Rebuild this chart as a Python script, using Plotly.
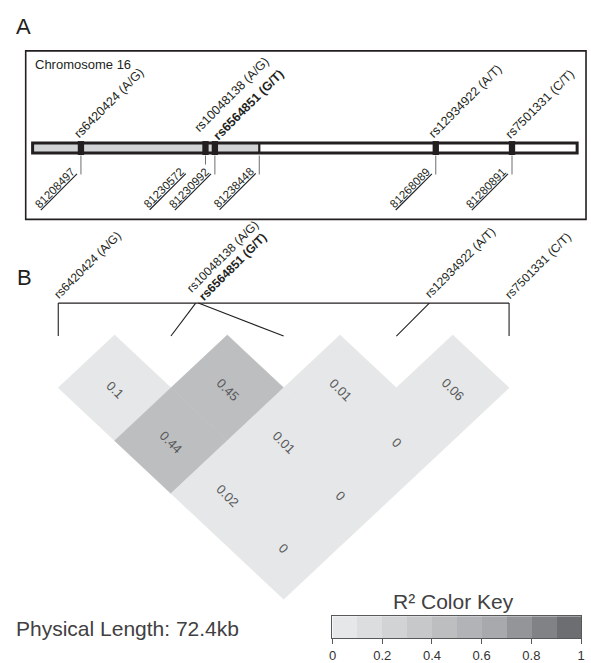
import math
import plotly.graph_objects as go

W, H = 591, 663
FONT = "Liberation Sans, Arial, Helvetica, sans-serif"

# ---------------- data ----------------
snp_ids = ["rs6420424", "rs10048138", "rs6564851", "rs12934922", "rs7501331"]
snp_alleles = ["A/G", "A/G", "G/T", "A/T", "C/T"]
snp_positions = [81208497, 81230572, 81230992, 81268089, 81280891]
lead_snp = "rs6564851"
block_end_position = 81238448
chromosome_label = "Chromosome 16"
region_start, region_end = 81200380, 81291830

# pairwise r2, listed by distance between SNPs (lag 1, 2, 3, 4)
r2_lag1 = [0.1, 0.45, 0.01, 0.06]
r2_lag2 = [0.44, 0.01, 0]
r2_lag3 = [0.02, 0]
r2_lag4 = [0]

key_edges = [0, 0.1, 0.2, 0.3, 0.4, 0.5, 0.6, 0.7, 0.8, 0.9, 1.0]
key_colors = ["#e6e7e8", "#dcddde", "#d1d3d4", "#c7c8ca", "#bcbec0",
              "#b1b3b6", "#a7a9ac", "#939598", "#808285", "#6d6e71"]
key_tickvals = [0, 0.2, 0.4, 0.6, 0.8, 1]
key_ticktext = ["0", "0.2", "0.4", "0.6", "0.8", "1"]

# ---------------- layout constants (pixels) ----------------
BAR_X0, BAR_X1 = 29, 581
BAR_Y0, BAR_Y1 = 143.5, 153.5
COL_X0, COL_DX = 55, 114.25       # LD columns
ROW_Y0, ROW_DY = 336, 53          # LD rows
BRACKET_Y = 304
marker_nudge_px = {"rs10048138": -7}
label_nudge_px = {"rs10048138": (-5, 6), "rs6564851": (5, -2)}   # (dx, dy-up)

bp_per_px = (region_end - region_start) / (BAR_X1 - BAR_X0)
INK = "#231f20"


def px_to_d(py):
    return (py - ROW_Y0) / ROW_DY


fig = go.Figure()
shapes = []
annotations = []

# ---------------- panel A ----------------
shapes.append(dict(type="rect", xref="paper", yref="paper", x0=22 / W, x1=590 / W,
                   y0=1 - 220 / H, y1=1 - 51 / H, line=dict(color=INK, width=1.6)))
annotations.append(dict(text="A", xref="paper", yref="paper", x=10 / W, y=1 - 27 / H,
                        xanchor="left", yanchor="middle", showarrow=False,
                        font=dict(family=FONT, size=22, color=INK)))
annotations.append(dict(text=chromosome_label, xref="paper", yref="paper", x=29 / W, y=1 - 65 / H,
                        xanchor="left", yanchor="middle", showarrow=False,
                        font=dict(family=FONT, size=13, color=INK)))

# chromosome bar
shapes.append(dict(type="rect", xref="x", yref="y", x0=region_start, x1=region_end,
                   y0=BAR_Y0, y1=BAR_Y1, fillcolor="white", line=dict(width=0)))
shapes.append(dict(type="rect", xref="x", yref="y", x0=region_start, x1=block_end_position,
                   y0=BAR_Y0, y1=BAR_Y1, fillcolor="#d1d3d4", line=dict(width=0)))
shapes.append(dict(type="line", xref="x", yref="y", x0=block_end_position, x1=block_end_position,
                   y0=BAR_Y0, y1=BAR_Y1, line=dict(color=INK, width=2.2)))
shapes.append(dict(type="rect", xref="x", yref="y", x0=region_start, x1=region_end,
                   y0=BAR_Y0, y1=BAR_Y1, fillcolor="rgba(0,0,0,0)", line=dict(color=INK, width=3)))

tick_items = []
for sid, al, pos in zip(snp_ids, snp_alleles, snp_positions):
    xpos = pos + marker_nudge_px.get(sid, 0) * bp_per_px
    shapes.append(dict(type="rect", xref="x", yref="y", x0=xpos - 3.2 * bp_per_px,
                       x1=xpos + 3.2 * bp_per_px, y0=141.5, y1=155.5,
                       fillcolor=INK, line=dict(width=0)))
    name = f"{sid} ({al})"
    if sid == lead_snp:
        name = f"<b>{name}</b>"
    dx, dy = label_nudge_px.get(sid, (0, 0))
    annotations.append(dict(text=name, xref="x", yref="y", x=xpos, y=144 - dy,
                            xanchor="left", yanchor="bottom", textangle=-45, showarrow=False,
                            xshift=-12 + dx, font=dict(family=FONT, size=12.5, color=INK)))
    tick_items.append((pos, xpos, sid in marker_nudge_px))
tick_items.append((block_end_position, block_end_position, False))

for pos, xpos, short in tick_items:
    shapes.append(dict(type="line", xref="x", yref="y", x0=xpos, x1=xpos, y0=156,
                       y1=165 if short else 175, line=dict(color="#6d6e71", width=1)))
    annotations.append(dict(text=f"<u>{pos}</u>", xref="x", yref="y", x=xpos, y=163,
                            xanchor="right", yanchor="top", textangle=-45, showarrow=False,
                            xshift=-17 if short else -1,
                            font=dict(family=FONT, size=11.5, color=INK)))

# ---------------- panel B ----------------
annotations.append(dict(text="B", xref="paper", yref="paper", x=11 / W, y=1 - 278 / H,
                        xanchor="left", yanchor="middle", showarrow=False,
                        font=dict(family=FONT, size=22, color=INK)))

n = len(snp_ids)
span = snp_positions[-1] - snp_positions[0]
u_phys = [(n - 1) * (p - snp_positions[0]) / span for p in snp_positions]
d_b = px_to_d(BRACKET_Y)

bx, by = [0, n - 1, None], [d_b, d_b, None]
for i, u in enumerate(u_phys):
    bx += [u, i, None]
    by += [d_b, 0.02, None]
fig.add_trace(go.Scatter(x=bx, y=by, mode="lines", line=dict(color=INK, width=1.1),
                         hoverinfo="skip", showlegend=False, xaxis="x2", yaxis="y2"))

for i, (sid, al) in enumerate(zip(snp_ids, snp_alleles)):
    name = f"{sid} ({al})"
    if sid == lead_snp:
        name = f"<b>{name}</b>"
    dx, dy = label_nudge_px.get(sid, (0, 0))
    annotations.append(dict(text=name, xref="x2", yref="y2", x=u_phys[i], y=px_to_d(305 - dy),
                            xanchor="left", yanchor="bottom", textangle=-45, showarrow=False,
                            xshift=-10 + dx, font=dict(family=FONT, size=12, color=INK)))

r2_by_lag = [r2_lag1, r2_lag2, r2_lag3, r2_lag4]
for k, row in enumerate(r2_by_lag, start=1):
    for i, v in enumerate(row):
        b = max(0, math.ceil(v * 10 - 1e-9) - 1)
        col = key_colors[b]
        cx, cy = i + k / 2, k
        fig.add_trace(go.Scatter(x=[cx - 0.5, cx, cx + 0.5, cx, cx - 0.5],
                                 y=[cy, cy - 1, cy, cy + 1, cy],
                                 mode="lines", fill="toself", fillcolor=col,
                                 line=dict(color=col, width=0.6), hoverinfo="skip",
                                 showlegend=False, xaxis="x2", yaxis="y2"))
        annotations.append(dict(text=f"{v:g}", xref="x2", yref="y2", x=cx, y=cy,
                                textangle=45, showarrow=False, yshift=-2,
                                font=dict(family=FONT, size=13, color="#58595b")))

length_kb = span / 1000
annotations.append(dict(text=f"Physical Length: {length_kb:.1f}kb", xref="paper", yref="paper",
                        x=10 / W, y=1 - 630 / H, xanchor="left", yanchor="middle", showarrow=False,
                        font=dict(family=FONT, size=21, color="#414042")))

# ---------------- colour key ----------------
centers = [(a + b) / 2 for a, b in zip(key_edges[:-1], key_edges[1:])]
cscale = []
for k, c in enumerate(key_colors):
    cscale += [[k / len(key_colors), c], [(k + 1) / len(key_colors), c]]
fig.add_trace(go.Heatmap(z=[list(range(len(key_colors)))], x=centers, y=[0],
                         colorscale=cscale, zmin=-0.5, zmax=len(key_colors) - 0.5,
                         showscale=False, hoverinfo="skip", xaxis="x3", yaxis="y3"))
annotations.append(dict(text="R² Color Key", xref="x3", yref="paper", x=0.485, y=1 - 603 / H,
                        xanchor="center", yanchor="middle", showarrow=False,
                        font=dict(family=FONT, size=21, color="#414042")))

fig.update_layout(
    width=W, height=H, margin=dict(l=0, r=0, t=0, b=0, pad=0),
    paper_bgcolor="white", plot_bgcolor="rgba(0,0,0,0)", showlegend=False,
    font=dict(family=FONT),
    xaxis=dict(range=[region_start - BAR_X0 * bp_per_px, region_start + (W - BAR_X0) * bp_per_px],
               domain=[0, 1], visible=False, fixedrange=True),
    yaxis=dict(range=[H, 0], domain=[0, 1], visible=False, fixedrange=True),
    xaxis2=dict(range=[-COL_X0 / COL_DX, (W - COL_X0) / COL_DX], overlaying="x", anchor="y2",
                visible=False, fixedrange=True),
    yaxis2=dict(range=[(H - ROW_Y0) / ROW_DY, -ROW_Y0 / ROW_DY], overlaying="y", anchor="x2",
                visible=False, fixedrange=True),
    xaxis3=dict(domain=[333 / W, 585 / W], range=[0, 1], anchor="y3", showline=True, mirror=True,
                linecolor="#58595b", linewidth=1, ticks="outside", ticklen=5, tickcolor="#58595b",
                tickvals=key_tickvals, ticktext=key_ticktext, showgrid=False, zeroline=False,
                tickfont=dict(family=FONT, size=13, color="#333333"), fixedrange=True),
    yaxis3=dict(domain=[(H - 640) / H, (H - 618) / H], range=[-0.5, 0.5], anchor="x3",
                showline=True, mirror=True, linecolor="#58595b", linewidth=1,
                showticklabels=False, ticks="", showgrid=False, zeroline=False, fixedrange=True),
    shapes=shapes, annotations=annotations,
)

fig.write_html("out.html", config={"displayModeBar": False},
               post_script="document.body.style.margin='0';document.body.style.padding='0';"
                           "document.body.style.overflow='hidden';")
